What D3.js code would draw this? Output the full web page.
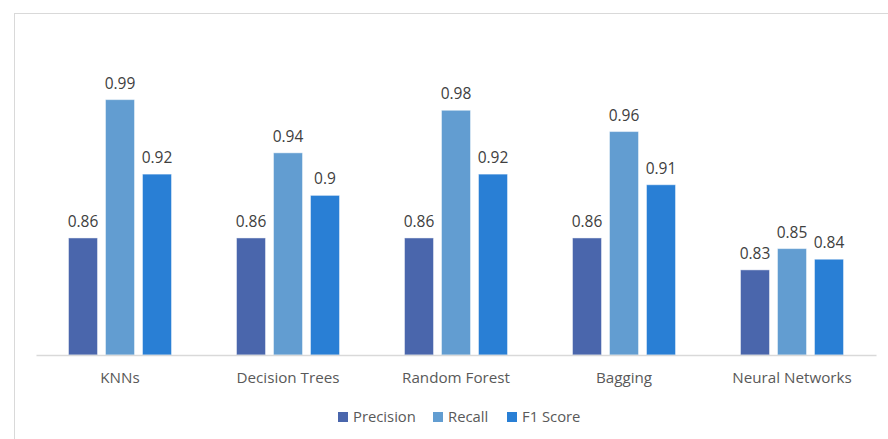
<!DOCTYPE html>
<html>
<head>
<meta charset="utf-8">
<script src="https://cdn.jsdelivr.net/npm/d3@7"></script>
<style>
  html, body { margin: 0; padding: 0; background: #fff; }
  svg { display: block; }
</style>
</head>
<body>
<div id="chart"></div>
<script>
// Model evaluation scores
const categories = ["KNNs", "Decision Trees", "Random Forest", "Bagging", "Neural Networks"];
const seriesNames = ["Precision", "Recall", "F1 Score"];
const precision = [0.86, 0.86, 0.86, 0.86, 0.83];
const recall    = [0.99, 0.94, 0.98, 0.96, 0.85];
const f1Score   = [0.92, 0.90, 0.92, 0.91, 0.84];
const colors = ["#4A66AC", "#629DD1", "#297FD5"];

const W = 888, H = 439;
const plot = { left: 36, right: 876, top: 89, bottom: 355 };
const font = "'Open Sans', 'Noto Sans', sans-serif";

const svg = d3.select("#chart").append("svg")
  .attr("width", W).attr("height", H);

// chart area frame (extends past the window on the right and bottom)
svg.append("rect")
  .attr("x", 14.5).attr("y", 13.5)
  .attr("width", W + 20).attr("height", H + 20)
  .attr("fill", "#fff").attr("stroke", "#d9d9d9").attr("stroke-width", 1);

const series = [precision, recall, f1Score];
const rows = categories.map((c, i) => ({
  cat: c,
  vals: seriesNames.map((s, j) => ({ key: s, j, v: series[j][i] }))
}));

const x0 = d3.scaleBand().domain(categories).range([plot.left, plot.right]).padding(0);
const barW = 29, gap = 8;
const groupW = barW * 3 + gap * 2;
const y = d3.scaleLinear().domain([0.75, 1.0]).range([plot.bottom, plot.top]);

const g = svg.append("g");
const groups = g.selectAll("g.cat").data(rows).join("g")
  .attr("transform", d => `translate(${x0(d.cat) + x0.bandwidth() / 2 - groupW / 2},0)`);

groups.selectAll("rect").data(d => d.vals).join("rect")
  .attr("x", d => d.j * (barW + gap))
  .attr("y", d => y(d.v))
  .attr("width", barW)
  .attr("height", d => y(0.75) - y(d.v))
  .attr("fill", d => colors[d.j])
  .attr("stroke", "rgba(255,255,255,0.45)")
  .attr("stroke-width", 1);

groups.selectAll("text").data(d => d.vals).join("text")
  .attr("x", d => d.j * (barW + gap) + barW / 2)
  .attr("y", d => y(d.v) - 11)
  .attr("text-anchor", "middle")
  .attr("font-family", font)
  .attr("font-size", 15.5)
  .attr("fill", "#404040")
  .text(d => String(d.v));

// category axis
const xAxis = svg.append("g")
  .attr("transform", `translate(0,${plot.bottom})`)
  .call(d3.axisBottom(x0).tickSize(0).tickPadding(17));
xAxis.select(".domain").attr("stroke", "#d9d9d9").attr("stroke-width", 1.3);
xAxis.selectAll("text")
  .attr("font-family", font).attr("font-size", 15.2).attr("fill", "#595959");

// legend
const legendItems = [
  { name: seriesNames[0], x: 338 },
  { name: seriesNames[1], x: 433 },
  { name: seriesNames[2], x: 507 }
];
const lg = svg.append("g").selectAll("g").data(legendItems).join("g")
  .attr("transform", d => `translate(${d.x},412)`);
lg.append("rect").attr("width", 10).attr("height", 10)
  .attr("fill", (d, i) => colors[i]);
lg.append("text").attr("x", 15).attr("y", 10)
  .attr("font-family", font).attr("font-size", 14.8).attr("fill", "#595959")
  .text(d => d.name);
</script>
</body>
</html>
